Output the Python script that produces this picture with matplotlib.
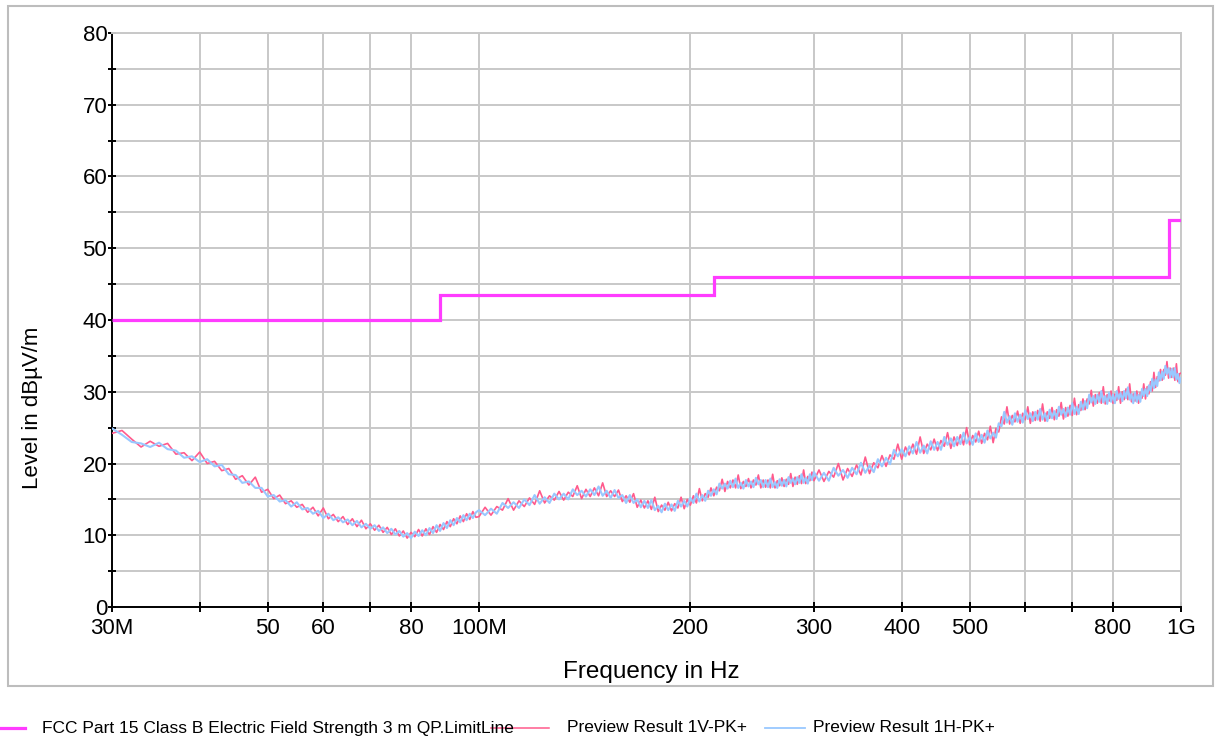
import matplotlib
matplotlib.use("Agg")
import matplotlib.pyplot as plt
from matplotlib.patches import Rectangle
from matplotlib.lines import Line2D
import numpy as np

plt.rcParams['font.family'] = ['Liberation Sans', 'DejaVu Sans']

# ---------------- data ----------------
# sweep grid in MHz
freq_mhz = list(range(30, 100)) + list(range(100, 300, 2)) + list(range(300, 1000, 5)) + [1000]

level_v = [
    # 30..99 MHz
    24.2, 24.6, 23.4, 22.3, 23.1, 22.4, 22.8, 21.3, 21.5, 20.4,
    21.6, 20.0, 20.3, 19.0, 19.3, 17.8, 18.3, 17.0, 18.1, 16.0,
    16.4, 15.1, 15.6, 14.4, 14.8, 13.9, 14.3, 13.2, 13.9, 12.7,
    13.8, 12.3, 12.9, 11.9, 12.6, 11.5, 12.3, 11.2, 12.1, 10.9,
    11.6, 10.7, 11.4, 10.4, 11.1, 10.1, 10.9, 9.9, 10.6, 9.6,
    10.4, 9.8, 10.8, 9.9, 10.9, 10.1, 11.2, 10.4, 11.5, 10.8,
    11.9, 11.2, 12.3, 11.6, 12.7, 11.9, 13.0, 12.2, 13.3, 12.5,
    # 100..298 MHz
    12.6, 13.9, 12.8, 14.0, 13.5, 15.1, 13.5, 14.8, 14.0, 15.2,
    14.3, 16.2, 14.5, 15.5, 14.9, 16.1, 14.9, 16.0, 15.4, 16.9,
    15.1, 16.4, 15.4, 16.6, 15.5, 17.3, 15.4, 16.2, 15.4, 16.3,
    14.7, 15.5, 14.6, 15.8, 13.9, 14.9, 13.8, 14.8, 13.6, 15.3,
    13.3, 14.2, 13.5, 14.6, 13.4, 14.4, 13.8, 15.3, 13.7, 15.0,
    14.2, 15.5, 14.5, 16.5, 14.8, 15.8, 15.3, 16.6, 15.5, 16.7,
    16.2, 17.8, 16.1, 17.5, 16.6, 17.7, 16.6, 18.4, 16.5, 17.5,
    16.8, 17.9, 16.6, 17.7, 17.0, 18.4, 16.6, 17.7, 16.7, 17.7,
    16.6, 18.5, 16.6, 17.6, 16.9, 18.0, 16.8, 17.8, 17.1, 18.6,
    16.8, 18.1, 17.1, 18.3, 17.2, 19.1, 17.2, 18.2, 17.6, 18.8,
    # 300..995 MHz
    17.6, 19.1, 17.5, 18.9, 18.1, 20.0, 17.7, 19.3, 18.2, 19.8,
    18.4, 20.9, 18.6, 20.1, 19.4, 21.1, 19.6, 21.2, 20.6, 22.7,
    20.6, 22.3, 21.2, 22.7, 21.3, 23.7, 21.4, 22.7, 21.9, 23.4,
    21.8, 23.2, 22.4, 24.3, 22.1, 23.7, 22.5, 24.0, 22.6, 25.0,
    22.6, 23.9, 23.0, 24.5, 22.8, 24.2, 23.3, 25.2, 22.9, 24.9,
    24.4, 26.5, 25.5, 27.9, 25.5, 26.7, 25.8, 27.3, 25.6, 27.0,
    26.1, 27.9, 25.6, 27.2, 26.0, 27.4, 25.9, 28.3, 25.9, 27.2,
    26.3, 27.8, 26.1, 27.5, 26.6, 28.5, 26.2, 27.8, 26.6, 28.1,
    26.7, 29.1, 26.8, 28.2, 27.4, 29.0, 27.5, 29.0, 28.3, 30.2,
    28.0, 29.6, 28.4, 29.9, 28.4, 30.7, 28.3, 29.6, 28.7, 30.1,
    28.4, 29.7, 28.8, 30.7, 28.4, 30.0, 28.9, 30.4, 28.9, 31.1,
    28.6, 29.7, 28.7, 30.1, 28.4, 29.9, 29.1, 31.1, 29.0, 30.7,
    29.7, 31.4, 30.1, 32.7, 30.6, 32.1, 31.5, 33.1, 31.6, 33.1,
    32.3, 34.2, 31.9, 33.3, 32.0, 33.3, 31.6, 33.9, 31.4, 32.5,
    # 1000 MHz
    32.6,
]

level_h = [
    # 30..99 MHz
    24.9, 24.0, 23.0, 22.8, 22.3, 22.9, 22.0, 21.8, 20.8, 21.0,
    20.2, 20.6, 19.6, 19.8, 18.5, 18.4, 17.3, 17.5, 16.6, 16.6,
    15.4, 15.6, 14.7, 14.9, 14.0, 14.6, 13.6, 13.8, 13.0, 13.4,
    12.4, 13.0, 12.1, 12.5, 11.8, 12.2, 11.4, 12.0, 11.1, 11.6,
    10.9, 11.4, 10.6, 11.1, 10.3, 10.9, 10.1, 10.6, 9.8, 10.3,
    9.6, 10.5, 9.9, 10.7, 10.0, 11.0, 10.3, 11.4, 10.6, 11.7,
    11.0, 12.1, 11.4, 12.4, 11.8, 12.8, 12.1, 13.0, 12.4, 13.2,
    # 100..298 MHz
    13.5, 12.8, 13.7, 13.0, 14.5, 13.8, 14.6, 13.8, 15.0, 14.2,
    15.6, 14.4, 15.3, 14.5, 15.8, 15.0, 15.8, 15.0, 16.4, 15.6,
    16.2, 15.4, 16.4, 15.6, 16.8, 15.5, 16.2, 15.2, 16.3, 15.2,
    15.6, 14.5, 15.6, 14.5, 15.0, 13.9, 14.8, 13.8, 14.9, 13.5,
    14.1, 13.2, 14.4, 13.5, 14.3, 13.4, 14.8, 14.0, 14.8, 14.0,
    15.2, 14.5, 15.8, 14.7, 15.6, 14.8, 16.2, 15.5, 16.4, 15.7,
    17.2, 16.5, 17.2, 16.5, 17.6, 16.7, 17.9, 16.6, 17.3, 16.5,
    17.7, 16.8, 17.5, 16.7, 18.0, 17.1, 17.7, 16.7, 17.7, 16.7,
    17.9, 16.7, 17.4, 16.6, 17.8, 16.9, 17.7, 16.8, 18.1, 17.3,
    17.9, 17.1, 18.1, 17.3, 18.5, 17.3, 18.0, 17.2, 18.5, 17.7,
    # 300..995 MHz
    18.8, 17.6, 18.7, 17.6, 19.4, 18.3, 19.1, 18.0, 19.4, 18.5,
    20.1, 18.7, 19.7, 18.8, 20.6, 19.6, 20.8, 19.9, 21.9, 21.0,
    22.0, 21.0, 22.4, 21.4, 23.0, 21.5, 22.5, 21.4, 23.1, 21.9,
    23.0, 21.9, 23.7, 22.6, 23.5, 22.4, 23.7, 22.7, 24.3, 22.8,
    23.7, 22.6, 24.2, 23.0, 24.0, 22.9, 24.6, 23.5, 24.3, 23.6,
    25.6, 25.2, 27.2, 25.7, 26.6, 25.4, 27.0, 25.8, 26.8, 25.7,
    27.4, 26.2, 27.0, 25.9, 27.2, 26.1, 27.6, 26.1, 27.0, 25.9,
    27.5, 26.3, 27.3, 26.2, 27.9, 26.8, 27.6, 26.5, 27.8, 26.8,
    28.4, 26.9, 27.9, 26.9, 28.6, 27.5, 28.7, 27.7, 29.6, 28.5,
    29.4, 28.3, 29.6, 28.6, 30.1, 28.5, 29.4, 28.3, 29.9, 28.6,
    29.6, 28.4, 30.1, 29.0, 29.8, 28.7, 30.1, 29.1, 30.6, 28.9,
    29.7, 28.4, 29.9, 28.6, 29.6, 28.6, 30.4, 29.4, 30.4, 29.4,
    30.9, 30.1, 31.8, 30.5, 31.7, 30.8, 32.7, 31.6, 32.8, 31.8,
    33.6, 32.5, 33.3, 32.0, 33.2, 32.0, 33.3, 31.7, 32.5, 31.2,
    # 1000 MHz
    31.9,
]

limit_edges_mhz = [30, 88, 216, 960, 1000]
limit_levels = [40, 43.5, 46, 54]

xtick_mhz = [30, 40, 50, 60, 70, 80, 100, 200, 300, 400, 500, 600, 700, 800, 1000]
xtick_labels = ['30M', '', '50', '60', '', '80', '100M', '200', '300', '400', '500', '', '', '800', '1G']
ytick_major = [0, 10, 20, 30, 40, 50, 60, 70, 80]
ytick_minor = [5, 15, 25, 35, 45, 55, 65, 75]

legend_labels = ['FCC Part 15 Class B Electric Field Strength 3 m QP.LimitLine',
                 'Preview Result 1V-PK+', 'Preview Result 1H-PK+']

# ---------------- figure ----------------
W, H = 1219, 742
fig = plt.figure(figsize=(W / 100, H / 100), dpi=100)

c_limit = '#FF3CFF'
c_v = '#FF5A8C'
c_h = '#99C8FF'
c_grid = '#C8C8C8'

# outer frame
fig.add_artist(Rectangle((8 / W, 1 - 686 / H), 1205 / W, 680 / H, transform=fig.transFigure,
                         fill=False, ec='#BDBDBD', lw=1.5))

ax = fig.add_axes([112 / W, 1 - 607 / H, 1069 / W, 574 / H])
ax.set_xscale('log')

f = np.array(freq_mhz) * 1e6
ax.stairs(limit_levels, np.array(limit_edges_mhz) * 1e6, color=c_limit, lw=2.3, baseline=None, zorder=3)
ax.plot(f, level_v, color=c_v, lw=1.2, zorder=4)
ax.plot(f, level_h, color=c_h, lw=1.5, zorder=5)

ax.set_xlim(30e6, 1e9)
ax.set_ylim(0, 80)

ax.set_xticks(np.array(xtick_mhz) * 1e6)
ax.set_xticklabels(xtick_labels)
ax.xaxis.set_minor_locator(matplotlib.ticker.NullLocator())
ax.set_yticks(ytick_major)
ax.set_yticks(ytick_minor, minor=True)

ax.grid(True, which='both', axis='both', color=c_grid, lw=1.4, zorder=0)
ax.set_axisbelow(True)

for s in ['top', 'right']:
    ax.spines[s].set_color(c_grid)
    ax.spines[s].set_linewidth(1.4)
for s in ['left', 'bottom']:
    ax.spines[s].set_color('black')
    ax.spines[s].set_linewidth(1.4)

ax.tick_params(axis='x', which='major', direction='inout', length=7.2, width=1.4,
               labelsize=16, pad=4, colors='black')
ax.tick_params(axis='y', which='both', direction='inout', length=5.8, width=1.4,
               labelsize=16, pad=0.5, colors='black')

ax.set_ylabel('Level in dBµV/m', fontsize=16)
ax.yaxis.set_label_coords((33 - 112) / 1069, (607 - 408) / 574)
ax.set_xlabel('Frequency in Hz', fontsize=17.5)
ax.xaxis.set_label_coords((651 - 112) / 1069, (607 - 672) / 574)
ax.xaxis.label.set_va('center')
ax.yaxis.label.set_va('center')

# legend (manual, below frame)
ly = 1 - 728 / H
fig.add_artist(Line2D([0 / W, 25 / W], [ly, ly], transform=fig.transFigure, color=c_limit, lw=2.3))
fig.text(42 / W, ly, legend_labels[0], fontsize=12.5, va='center', ha='left')
fig.add_artist(Line2D([491 / W, 549 / W], [ly, ly], transform=fig.transFigure, color=c_v, lw=1.1))
fig.text(567 / W, ly, legend_labels[1], fontsize=12.5, va='center', ha='left')
fig.add_artist(Line2D([765 / W, 805 / W], [ly, ly], transform=fig.transFigure, color=c_h, lw=1.3))
fig.text(813 / W, ly, legend_labels[2], fontsize=12.5, va='center', ha='left')

fig.savefig('out.png', dpi=100)
